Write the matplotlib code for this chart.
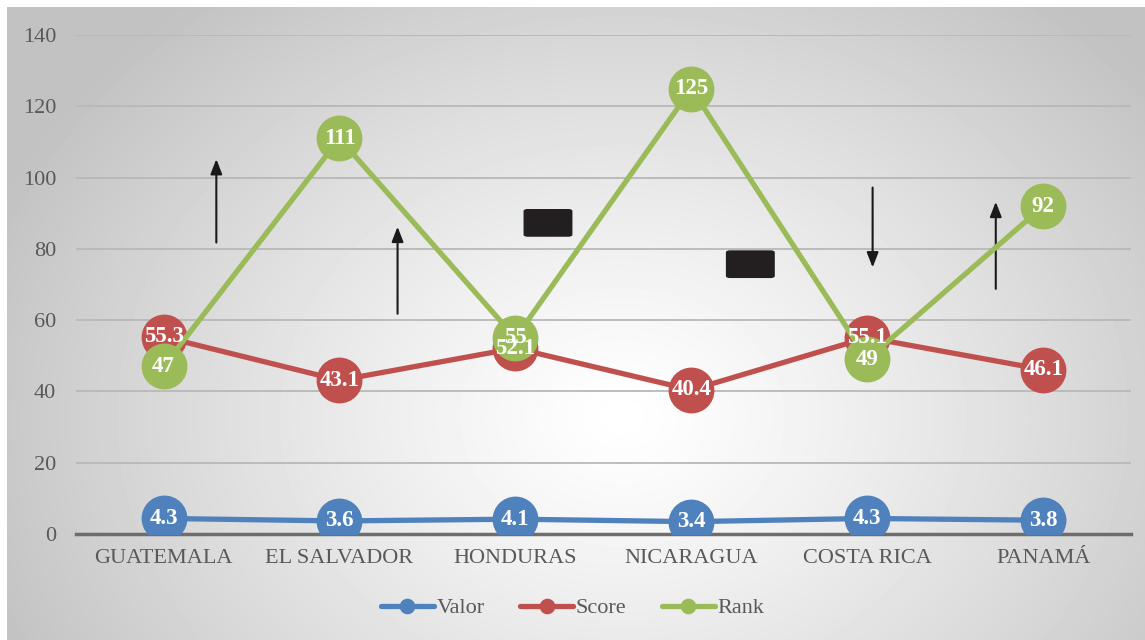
import numpy as np
import matplotlib
matplotlib.use("Agg")
import matplotlib.pyplot as plt
from matplotlib.patches import FancyBboxPatch

plt.rcParams['font.family'] = ['Liberation Serif', 'DejaVu Serif']

countries = ["GUATEMALA", "EL SALVADOR", "HONDURAS", "NICARAGUA", "COSTA RICA", "PANAMÁ"]
valor = [4.3, 3.6, 4.1, 3.4, 4.3, 3.8]
score = [55.3, 43.1, 52.1, 40.4, 55.1, 46.1]
rank = [47, 111, 55, 125, 49, 92]

# annotation arrows (x, y_start, y_end) and black boxes (x0, y0, w, h)
arrows = [(0.30, 81, 106), (1.33, 61, 87), (4.03, 98, 74), (4.73, 68, 94)]
boxes = [(2.05, 83.6, 0.27, 7.4), (3.20, 72.0, 0.27, 7.4)]

fig = plt.figure(figsize=(11.45, 6.4), dpi=100)

# radial gradient background (leaves a thin white strip top/left)
bg = fig.add_axes([7 / 1145, 0, 1 - 7 / 1145, 1 - 7 / 640])
yy, xx = np.mgrid[0:633, 0:1138]
r = np.sqrt(((xx - 615) / 680.0) ** 2 + ((yy - 410) / 540.0) ** 2)
shade = 1.0 - 0.24 * np.clip(r, 0, 1) ** 1.2
bg.imshow(shade, cmap='gray', vmin=0, vmax=1, aspect='auto')
bg.set_axis_off()

ax = fig.add_axes([0.066, 0.166, 0.922, 0.779])
ax.patch.set_alpha(0)
x = np.arange(len(countries))

series = [("Valor", valor, '#4F81BD'), ("Score", score, '#C0504D'), ("Rank", rank, '#9BBB59')]
for name, vals, col in series:
    ax.plot(x, vals, color=col, lw=3.8, marker='o', ms=32, mfc=col, mec=col,
            label=name, zorder=3, solid_capstyle='round')
    for xi, v in zip(x, vals):
        ax.text(xi, v, '%g' % v, color='white', fontsize=16.5, fontweight='bold',
                ha='center', va='center', zorder=5)

for xa, y0, y1 in arrows:
    ax.annotate('', xy=(xa, y1), xytext=(xa, y0),
                arrowprops=dict(arrowstyle='-|>,head_width=0.35,head_length=0.9',
                                color='#1a1a1a', lw=1.5), zorder=2)
for bx, by, bw, bh in boxes:
    ax.add_patch(FancyBboxPatch((bx, by), bw, bh, boxstyle='round,pad=0,rounding_size=0.02',
                                facecolor='#231f20', edgecolor='#231f20', zorder=2,
                                mutation_aspect=20))

ax.set_xlim(-0.5, 5.5)
ax.set_ylim(0, 140)
ax.set_yticks(range(0, 141, 20))
ax.set_xticks(x)
ax.set_xticklabels(countries)
ax.grid(axis='y', color='#b8b8b8', lw=1.3, zorder=0)
ax.set_axisbelow(True)
for s in ['top', 'right', 'left']:
    ax.spines[s].set_visible(False)
ax.spines['bottom'].set_color('#6d6d6d')
ax.spines['bottom'].set_linewidth(2.5)
ax.tick_params(axis='both', length=0, labelsize=16, labelcolor='#595959')
ax.tick_params(axis='y', pad=14)
ax.tick_params(axis='x', pad=11)

fig.legend(handles=ax.lines, loc='center', bbox_to_anchor=(0.5, 0.05), ncol=3,
           frameon=False, fontsize=16, markerscale=0.32, handlelength=2.4,
           handletextpad=0.1, columnspacing=1.6, labelcolor='#595959')

fig.savefig('out.png', dpi=100)
